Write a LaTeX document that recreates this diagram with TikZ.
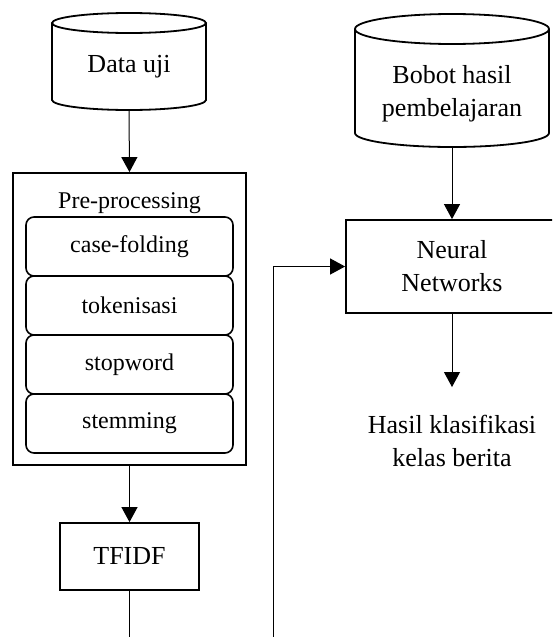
\documentclass[tikz,border=0pt]{standalone}
\usepackage{fontspec}
\setmainfont{Liberation Serif}
\usetikzlibrary{arrows.meta}
\tikzset{
  box/.style={draw, line width=1.8pt, inner sep=0pt, align=center},
  subbox/.style={draw, line width=1.6pt, rounded corners=8pt, minimum width=207pt, minimum height=59pt, inner sep=0pt, font=\fontsize{24}{28}\selectfont},
  cyl/.style={line width=1.8pt},
  arr/.style={line width=1pt, -{Triangle[width=16pt,length=15pt]}},
  conn/.style={line width=1pt},
  lbl/.style={align=center, inner sep=0pt, font=\fontsize{26}{33}\selectfont}
}
\begin{document}
\begin{tikzpicture}[x=1pt,y=-1pt]
\useasboundingbox (0,0) rectangle (552,637);
\clip (0,0) rectangle (552,637);
% Data uji cylinder
\draw[cyl] (129,23) ellipse [x radius=77pt, y radius=10pt];
\draw[cyl] (52,23) -- (52,100) arc [start angle=180, end angle=360, x radius=77pt, y radius=10pt] -- (206,23);
\node[lbl] (du) at (129,67) {Data uji};
\coordinate (dubot) at (129,110);
% Bobot cylinder
\draw[cyl] (452,29) ellipse [x radius=97pt, y radius=15pt];
\draw[cyl] (355,29) -- (355,133) arc [start angle=180, end angle=360, x radius=97pt, y radius=14pt] -- (549,29);
\node[lbl] (bb) at (452,94) {Bobot hasil\\pembelajaran};
\coordinate (bbbot) at (452,147);
% Pre-processing
\node[box, minimum width=233pt, minimum height=292pt] (pre) at (129.5,319) {};
\node[lbl, font=\fontsize{24}{28}\selectfont] (pret) at (129.5,203) {Pre-processing};
\node[subbox] (s1) at (129.5,246.5) {case-folding};
\node[subbox] (s2) at (129.5,305.5) {tokenisasi};
\node[subbox] (s3) at (129.5,364.5) {stopword};
\node[subbox] (s4) at (129.5,423.5) {stemming};
% TFIDF
\node[box, minimum width=139pt, minimum height=67pt, font=\fontsize{26}{33}\selectfont] (tf) at (129.5,556.5) {TFIDF};
% Neural Networks
\node[box, minimum width=212pt, minimum height=93pt, font=\fontsize{26}{33}\selectfont] (nn) at (452,266.5) {Neural\\Networks};
% Hasil
\node[lbl, inner ysep=28pt] (hs) at (452,441) {Hasil klasifikasi\\kelas berita};
% bottom ends
\coordinate (tfb) at (129.5,645);
\coordinate (lb) at (273,645);
% connectors
\draw[arr] (dubot) -- (pre.north);
\draw[arr] (pre.south) -- (tf.north);
\draw[conn] (tf.south) -- (tfb);
\draw[arr] (lb) |- (nn.west);
\draw[arr] (bbbot) -- (nn.north);
\draw[arr] (nn.south) -- (hs.north);
\end{tikzpicture}
\end{document}
